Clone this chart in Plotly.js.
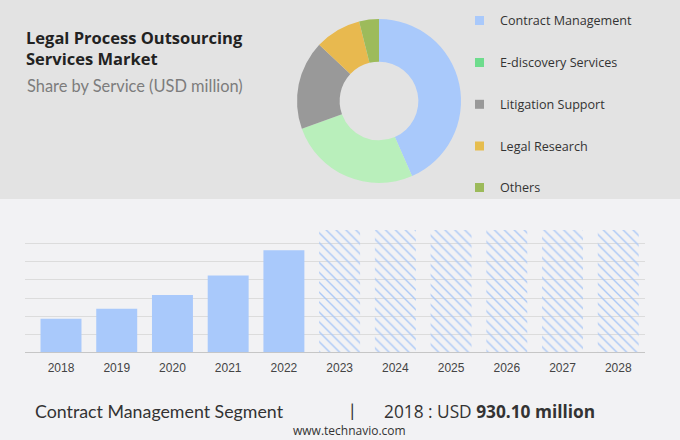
<!DOCTYPE html>
<html>
<head>
<meta charset="utf-8">
<script src="https://cdn.plot.ly/plotly-3.0.1.min.js"></script>
<style>
html,body{margin:0;padding:0;background:#f2f2f4;}
#chart{width:680px;height:440px;}
</style>
</head>
<body>
<div id="chart"></div>
<script>
// ---- data ----
var services = ["Contract Management", "E-discovery Services", "Litigation Support", "Legal Research", "Others"];
var shares = [43.4, 26.1, 17.5, 9.1, 3.9];
var histYears = ["2018", "2019", "2020", "2021", "2022"];
var histValues = [930.10, 1205, 1585, 2120, 2820];
var forecastYears = ["2023", "2024", "2025", "2026", "2027", "2028"];
var forecastValues = [3380, 3380, 3380, 3380, 3380, 3380];
var allYears = histYears.concat(forecastYears);

// ---- styles ----
var pieColors = ["#a9c9fb", "#b9efbb", "#999999", "#e8b94f", "#9dbb5b"];
var legendColors = ["#a9c9fb", "#6edc8d", "#999999", "#e6bd4e", "#9cba5a"];
var W = 680, H = 440;
function py(p) { return 1 - p / H; }
function px(p) { return p / W; }

var traces = [
  {
    type: "pie",
    labels: services,
    values: shares,
    sort: false,
    direction: "clockwise",
    rotation: 0,
    hole: 0.48,
    marker: { colors: pieColors, line: { width: 0 } },
    textinfo: "none",
    hoverinfo: "none",
    showlegend: false,
    domain: { x: [px(297), px(461)], y: [py(183), py(19)] }
  },
  {
    type: "bar",
    x: histYears,
    y: histValues,
    width: 0.735,
    marker: { color: "#a9c9fb", line: { width: 0 } },
    hoverinfo: "none",
    showlegend: false
  },
  {
    type: "bar",
    x: forecastYears,
    y: forecastValues,
    width: 0.735,
    marker: {
      color: "rgba(0,0,0,0)",
      line: { width: 0 },
      pattern: { shape: "\\", fgcolor: "#abc8f6", bgcolor: "rgba(0,0,0,0)", size: 7, solidity: 0.2 }
    },
    hoverinfo: "none",
    showlegend: false
  }
];

var shapes = [
  { type: "rect", xref: "paper", yref: "paper", x0: 0, x1: 1, y0: py(199), y1: 1,
    fillcolor: "#e3e3e3", line: { width: 0 }, layer: "below" }
];
var annotations = [
  { text: "<b>Legal Process Outsourcing</b><br><b>Services Market</b>", xref: "paper", yref: "paper",
    x: px(24), y: py(48), xanchor: "left", yanchor: "middle", align: "left", showarrow: false,
    font: { family: "Open Sans", size: 16.5, color: "#222" } },
  { text: "Share by Service (USD million)", xref: "paper", yref: "paper",
    x: px(25), y: py(86), xanchor: "left", yanchor: "middle", align: "left", showarrow: false,
    font: { family: "Lato", size: 16.4, color: "#7c7c7c" } },
  { text: "Contract Management Segment", xref: "paper", yref: "paper",
    x: px(33), y: py(411), xanchor: "left", yanchor: "middle", showarrow: false,
    font: { family: "Lato", size: 17.8, color: "#333" } },
  { text: "|", xref: "paper", yref: "paper",
    x: px(352), y: py(410), xanchor: "center", yanchor: "middle", showarrow: false,
    font: { family: "Lato", size: 18, color: "#333" } },
  { text: histYears[0] + " : USD <b>" + histValues[0].toFixed(2) + " million</b>", xref: "paper", yref: "paper",
    x: px(382), y: py(411), xanchor: "left", yanchor: "middle", showarrow: false,
    font: { family: "Open Sans", size: 17.3, color: "#333" } },
  { text: "www.technavio.com", xref: "paper", yref: "paper",
    x: px(350), y: py(430), xanchor: "center", yanchor: "middle", showarrow: false,
    font: { family: "Open Sans", size: 12, color: "#333" } }
];
var rowY = [20.5, 62.5, 104.3, 146, 187.5];
for (var i = 0; i < services.length; i++) {
  shapes.push({ type: "rect", xref: "paper", yref: "paper",
    x0: px(475), x1: px(484), y0: py(rowY[i] + 4.5), y1: py(rowY[i] - 4.5),
    fillcolor: legendColors[i], line: { width: 0 } });
  annotations.push({ text: services[i], xref: "paper", yref: "paper",
    x: px(498), y: py(rowY[i]), xanchor: "left", yanchor: "middle", showarrow: false,
    font: { family: "Open Sans", size: 12.6, color: "#333" } });
}

var layout = {
  width: W, height: H,
  margin: { l: 0, r: 0, t: 0, b: 0 },
  paper_bgcolor: "#f2f2f4",
  plot_bgcolor: "rgba(0,0,0,0)",
  barmode: "overlay",
  showlegend: false,
  xaxis: {
    type: "category",
    categoryorder: "array", categoryarray: allYears,
    domain: [px(25), px(645)],
    range: [-0.646, 10.48],
    showgrid: false, zeroline: false, showline: false,
    ticks: "", ticklabelstandoff: 7,
    tickfont: { family: "Liberation Sans", size: 12, color: "#444" },
    fixedrange: true
  },
  yaxis: {
    domain: [py(352.3), py(225.7)],
    range: [0, 3500],
    dtick: 500,
    showticklabels: false,
    showgrid: true, gridcolor: "#dcdcdc", gridwidth: 1,
    zeroline: true, zerolinecolor: "#c6c6c6", zerolinewidth: 1.5,
    fixedrange: true
  },
  shapes: shapes,
  annotations: annotations
};

Plotly.newPlot("chart", traces, layout, { displayModeBar: false, staticPlot: true });
</script>
</body>
</html>
